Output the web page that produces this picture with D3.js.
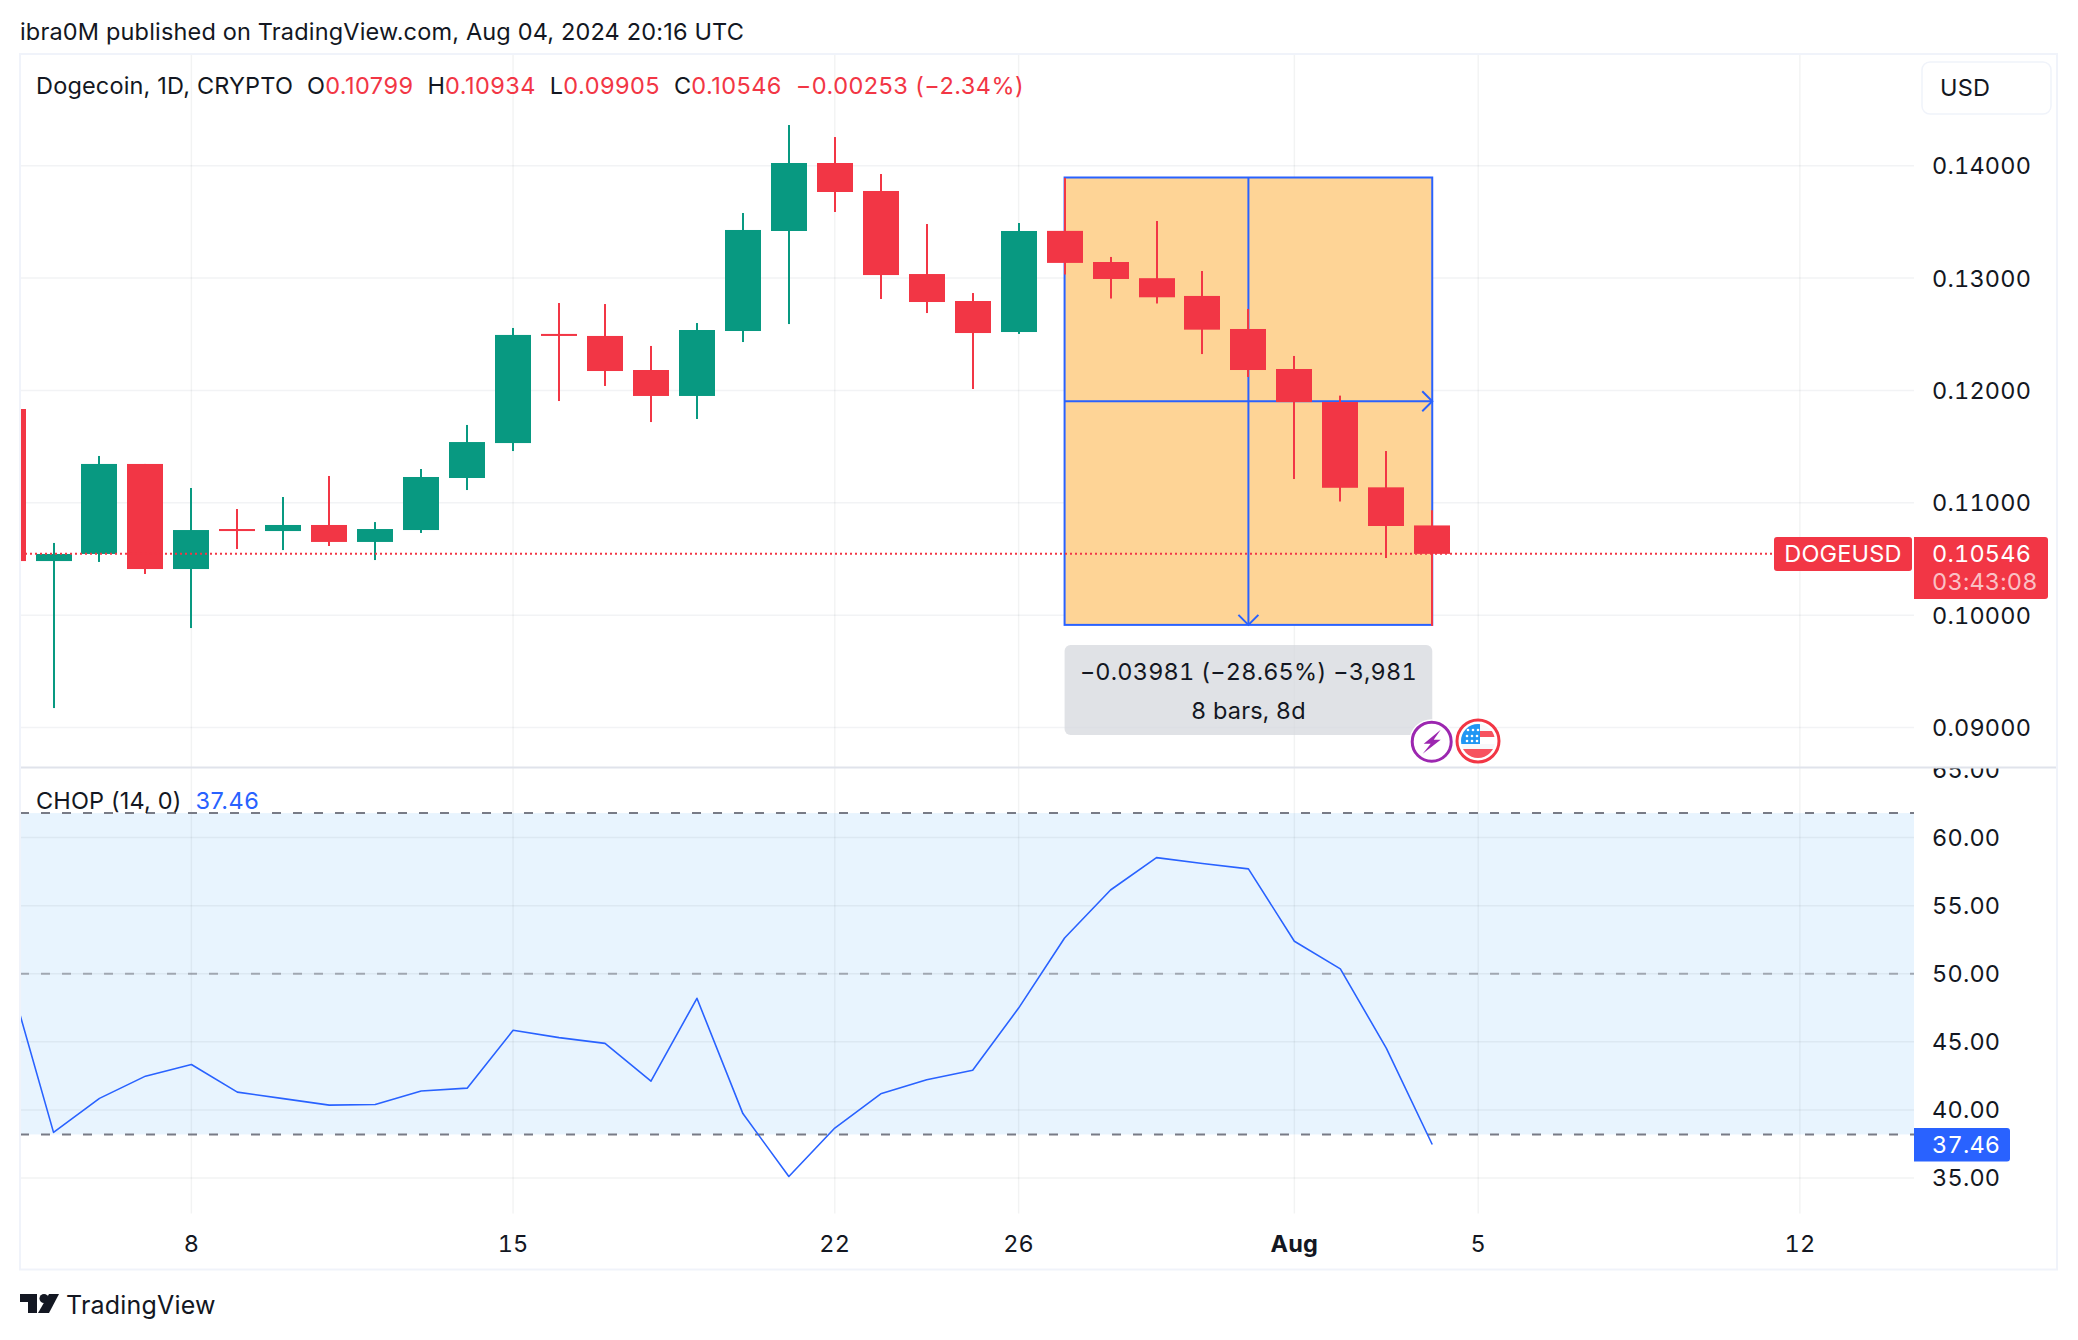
<!DOCTYPE html>
<html>
<head>
<meta charset="utf-8">
<script src="https://cdn.jsdelivr.net/npm/d3@7"></script>
<style>
  html, body { margin: 0; padding: 0; background: #fff; }
  svg { display: block; }
  text { font-family: Inter, "Noto Sans", sans-serif; font-variant-numeric: tabular-nums; letter-spacing: 0.2px; }
  text.plain { letter-spacing: 0.17px; font-variant-numeric: normal; }
  tspan.val { letter-spacing: 0.45px; font-variant-numeric: normal; }
</style>
</head>
<body>
<script>
// daily candles, 4 Jul -> 4 Aug 2024
var days = ["2024-07-04","2024-07-05","2024-07-06","2024-07-07","2024-07-08","2024-07-09","2024-07-10","2024-07-11","2024-07-12","2024-07-13","2024-07-14","2024-07-15","2024-07-16","2024-07-17","2024-07-18","2024-07-19","2024-07-20","2024-07-21","2024-07-22","2024-07-23","2024-07-24","2024-07-25","2024-07-26","2024-07-27","2024-07-28","2024-07-29","2024-07-30","2024-07-31","2024-08-01","2024-08-02","2024-08-03","2024-08-04"];
var opens  = [.11835,.10482,.10545,.11346,.10411,.10767,.10749,.10803,.10652,.10758,.11221,.11532,.12503,.12485,.12182,.11951,.12529,.13419,.14024,.13775,.13036,.12796,.1252,.1342,.13143,.12999,.12841,.12547,.12191,.11897,.11138,.10799];
var highs  = [.11835,.10643,.11417,.11346,.11132,.10945,.11052,.11239,.10829,.11301,.11693,.12556,.12778,.12769,.12396,.126,.13579,.14362,.14255,.13926,.13481,.12867,.1349,.13891,.13188,.13508,.13063,.12725,.12307,.11954,.11461,.10934];
var lows   = [.10482,.09174,.10474,.10367,.09886,.10589,.1058,.10616,.10491,.10732,.11114,.11461,.11906,.1204,.11719,.11746,.12431,.12591,.13588,.12814,.12689,.12013,.12503,.13032,.12818,.12774,.12324,.1212,.11212,.11012,.10509,.09905];
var closes = [.10482,.10545,.11346,.10411,.10758,.10749,.10803,.10652,.10767,.1123,.11541,.12494,.12485,.12173,.11951,.12538,.13428,.14024,.13766,.13027,.12787,.12511,.13419,.13135,.12992,.12829,.12541,.12182,.11897,.11134,.10794,.10546];
var chop   = [50.2,38.35,40.85,42.48,43.34,41.31,40.83,40.35,40.4,41.39,41.6,45.85,45.31,44.89,42.11,48.2,39.73,35.11,38.67,41.18,42.22,42.91,47.48,52.63,56.15,58.53,58.1,57.7,52.39,50.36,44.54,37.46];

var priceTicks = [0.09, 0.10, 0.11, 0.12, 0.13, 0.14];
var chopTicks = [35, 40, 45, 50, 55, 60, 65];
var chopLevels = [61.8, 50, 38.2];
var timeTicks = [["2024-07-08","8"],["2024-07-15","15"],["2024-07-22","22"],["2024-07-26","26"],["2024-08-01","Aug"],["2024-08-05","5"],["2024-08-12","12"]];

var lastPrice = 0.10546;
var measureFrom = "2024-07-27", measureTo = "2024-08-04";
var measureTop = 0.13895, measureBottom = 0.09914;

var width = 2078, height = 1340;
var plotLeft = 20, plotRight = 1914, frameRight = 2057, plotTop = 54;
var sep = 767.5, axisTop = 1213.5, frameBottom = 1269.5;
var fs = 23.5;

var red = "#F23645", green = "#089981", blue = "#2962FF", ink = "#131722";
var grid = "#f2f3f5";

var parse = d3.utcParse("%Y-%m-%d");

var x = d3.scaleUtc()
    .domain([parse("2024-07-08"), parse("2024-08-12")])
    .range([191.4, 1799.9]);
var y = d3.scaleLinear().domain([0.09, 0.14]).range([727.6, 165.7]);
var yc = d3.scaleLinear().domain([35, 60]).range([1178, 837.6]);

var svg = d3.select("body").append("svg")
    .attr("width", width)
    .attr("height", height);

var defs = svg.append("defs");
defs.append("clipPath").attr("id", "plot")
  .append("rect").attr("x", plotLeft).attr("y", plotTop).attr("width", plotRight - plotLeft).attr("height", sep - plotTop);
defs.append("clipPath").attr("id", "lower")
  .append("rect").attr("x", plotLeft).attr("y", sep).attr("width", plotRight - plotLeft).attr("height", axisTop - sep);
defs.append("clipPath").attr("id", "lowerAxis")
  .append("rect").attr("x", plotRight).attr("y", sep + 1).attr("width", frameRight - plotRight).attr("height", axisTop - sep);

// header
svg.append("text").attr("x", 20).attr("y", 40)
    .attr("class", "plain")
    .attr("font-size", fs).attr("fill", ink)
    .text("ibra0M published on TradingView.com, Aug 04, 2024 20:16 UTC");

// lower pane band goes under the grid
svg.append("rect")
    .attr("x", plotLeft).attr("width", plotRight - plotLeft)
    .attr("y", yc(61.8)).attr("height", yc(38.2) - yc(61.8))
    .attr("fill", "#e8f4fe");

// grid
svg.append("g").selectAll("line").data(priceTicks).join("line")
    .attr("x1", plotLeft).attr("x2", plotRight)
    .attr("y1", function(d) { return y(d); }).attr("y2", function(d) { return y(d); })
    .attr("stroke", grid).attr("stroke-width", 1.5);

svg.append("g").selectAll("line").data(chopTicks.filter(function(d) { return d != 65; })).join("line")
    .attr("x1", plotLeft).attr("x2", plotRight)
    .attr("y1", function(d) { return yc(d); }).attr("y2", function(d) { return yc(d); })
    .attr("stroke", "#2a2e39").attr("stroke-opacity", 0.06).attr("stroke-width", 1.5);

svg.append("g").selectAll("line").data(timeTicks).join("line")
    .attr("x1", function(d) { return x(parse(d[0])); }).attr("x2", function(d) { return x(parse(d[0])); })
    .attr("y1", plotTop).attr("y2", axisTop)
    .attr("stroke", "#2a2e39").attr("stroke-opacity", 0.06).attr("stroke-width", 1.4);

// measure box
var bx0 = x(parse(measureFrom)), bx1 = x(parse(measureTo));
var bMidX = (bx0 + bx1) / 2;
var bMidY = y((measureTop + measureBottom) / 2);
var box = svg.append("g");
box.append("rect")
    .attr("x", bx0).attr("y", y(measureTop))
    .attr("width", bx1 - bx0).attr("height", y(measureBottom) - y(measureTop))
    .attr("fill", "#fed496")
    .attr("stroke", blue).attr("stroke-width", 2);
box.append("line").attr("x1", bx0).attr("x2", bx1).attr("y1", bMidY).attr("y2", bMidY)
    .attr("stroke", blue).attr("stroke-width", 2);
box.append("line").attr("x1", bMidX).attr("x2", bMidX).attr("y1", y(measureTop)).attr("y2", y(measureBottom))
    .attr("stroke", blue).attr("stroke-width", 2);
box.append("path")
    .attr("d", d3.line()([[bx1 - 10, bMidY - 10], [bx1, bMidY], [bx1 - 10, bMidY + 10]]))
    .attr("fill", "none").attr("stroke", blue).attr("stroke-width", 2);
box.append("path")
    .attr("d", d3.line()([[bMidX - 10, y(measureBottom) - 10], [bMidX, y(measureBottom)], [bMidX + 10, y(measureBottom) - 10]]))
    .attr("fill", "none").attr("stroke", blue).attr("stroke-width", 2);

// candles
var candles = days.map(function(d, i) {
    return {t: parse(d), o: opens[i], h: highs[i], l: lows[i], c: closes[i]};
});
var bodyW = 36;
var cg = svg.append("g").attr("clip-path", "url(#plot)");
var cc = cg.selectAll("g").data(candles).join("g")
    .attr("fill", function(d) { return d.c >= d.o ? green : red; });
cc.append("rect")
    .attr("x", function(d) { return Math.round(x(d.t)) - 1; })
    .attr("width", 2)
    .attr("y", function(d) { return y(d.h); })
    .attr("height", function(d) { return y(d.l) - y(d.h); });
cc.append("rect")
    .attr("x", function(d) { return Math.round(x(d.t)) - bodyW / 2; })
    .attr("width", bodyW)
    .attr("y", function(d) { return Math.min(y(d.o), y(d.c)); })
    .attr("height", function(d) { return Math.max(2, Math.abs(y(d.o) - y(d.c))); });

// last price line
svg.append("line")
    .attr("x1", plotLeft).attr("x2", 1774)
    .attr("y1", y(lastPrice)).attr("y2", y(lastPrice))
    .attr("stroke", red).attr("stroke-width", 2).attr("stroke-dasharray", "2 3");

// tooltip
svg.append("rect")
    .attr("x", bx0).attr("y", 645).attr("width", bx1 - bx0).attr("height", 90).attr("rx", 6)
    .attr("fill", "#d6d8de").attr("fill-opacity", 0.75);
svg.append("text").attr("x", bMidX).attr("y", 680)
    .attr("text-anchor", "middle").attr("font-size", fs).attr("fill", ink)
    .text("\u22120.03981 (\u221228.65%) \u22123,981");
svg.append("text").attr("x", bMidX).attr("y", 719)
    .attr("text-anchor", "middle").attr("font-size", fs).attr("fill", ink)
    .text("8 bars, 8d");

// event icons
var ev1 = svg.append("g").attr("transform", "translate(1431.7,741.7)");
ev1.append("circle").attr("r", 22.5).attr("fill", "#fff");
ev1.append("circle").attr("r", 19.5).attr("fill", "#fff").attr("stroke", "#9C27B0").attr("stroke-width", 3);
ev1.append("path").attr("d", "M9,-12 L-8,2 L-1,2 L-9,12 L9,-2 L2,-2 Z").attr("fill", "#9C27B0");

var ev2 = svg.append("g").attr("transform", "translate(1478,741)");
ev2.append("circle").attr("r", 21).attr("fill", "#fff").attr("stroke", red).attr("stroke-width", 3);
defs.append("clipPath").attr("id", "flagClip").append("circle").attr("r", 17);
var flag = ev2.append("g").attr("clip-path", "url(#flagClip)");
flag.append("rect").attr("x", -17).attr("y", -17).attr("width", 34).attr("height", 8).attr("fill", "#f7f8fa");
flag.append("rect").attr("x", 0).attr("y", -10).attr("width", 17).attr("height", 6).attr("fill", "#f7525f");
flag.append("rect").attr("x", -17).attr("y", 3).attr("width", 34).attr("height", 5).attr("fill", "#f7f8fa");
flag.append("rect").attr("x", -17).attr("y", 8).attr("width", 34).attr("height", 10).attr("fill", "#f7525f");
flag.append("rect").attr("x", -17).attr("y", -17).attr("width", 19).attr("height", 20).attr("fill", "#2196F3");
flag.selectAll("circle").data([[-10,-11],[-5,-11],[0,-11],[-11,-5],[-6,-5],[-1,-5],[-11,0],[-6,0],[-1,0]]).join("circle")
    .attr("cx", function(d) { return d[0]; }).attr("cy", function(d) { return d[1]; })
    .attr("r", 1.3).attr("fill", "#fff");

// lower pane levels
svg.append("g").selectAll("line").data(chopLevels).join("line")
    .attr("x1", plotLeft).attr("x2", plotRight)
    .attr("y1", function(d) { return yc(d); }).attr("y2", function(d) { return yc(d); })
    .attr("stroke", "#787B86")
    .attr("stroke-opacity", function(d) { return d == 50 ? 0.6 : 1; })
    .attr("stroke-width", 2).attr("stroke-dasharray", "9 12");

// CHOP line
var chopLine = d3.line()
    .x(function(d, i) { return x(candles[i].t); })
    .y(function(d) { return yc(d); });
svg.append("path").attr("clip-path", "url(#lower)")
    .datum(chop).attr("d", chopLine)
    .attr("fill", "none").attr("stroke", blue).attr("stroke-width", 1.6)
    .attr("stroke-linejoin", "round");

// frame and pane separator
svg.append("line").attr("x1", plotLeft).attr("x2", frameRight).attr("y1", sep).attr("y2", sep)
    .attr("stroke", "#e0e3eb").attr("stroke-width", 2);
svg.append("rect")
    .attr("x", plotLeft).attr("y", plotTop).attr("width", frameRight - plotLeft).attr("height", frameBottom - plotTop)
    .attr("fill", "none").attr("stroke", "#f0f3fa").attr("stroke-width", 2);

// price axis
var labelX = 1932;
svg.append("g").selectAll("text").data(priceTicks).join("text")
    .attr("x", labelX).attr("y", function(d) { return y(d); }).attr("dy", "0.36em")
    .attr("font-size", fs).attr("fill", ink)
    .text(d3.format(".5f"));
svg.append("g").attr("clip-path", "url(#lowerAxis)").selectAll("text").data(chopTicks).join("text")
    .attr("x", labelX).attr("y", function(d) { return yc(d); }).attr("dy", "0.36em")
    .attr("font-size", fs).attr("fill", ink)
    .text(d3.format(".2f"));

// time axis
svg.append("g").selectAll("text").data(timeTicks).join("text")
    .attr("x", function(d) { return x(parse(d[0])); }).attr("y", 1244).attr("dy", "0.36em")
    .attr("text-anchor", "middle").attr("font-size", fs).attr("fill", ink)
    .attr("font-weight", function(d) { return d[1] == "Aug" ? 700 : 400; })
    .text(function(d) { return d[1]; });

// legend
var legend = svg.append("text").attr("class", "plain").attr("x", 36).attr("y", 94).attr("font-size", fs).attr("fill", ink);
legend.append("tspan").text("Dogecoin, 1D, CRYPTO");
[["O","0.10799"],["H","0.10934"],["L","0.09905"],["C","0.10546"]].forEach(function(p, i) {
    legend.append("tspan").attr("dx", 14).text(p[0]);
    legend.append("tspan").attr("class", "val").attr("fill", red).text(p[1]);
});
legend.append("tspan").attr("class", "val").attr("dx", 14).attr("fill", red).text("\u22120.00253 (\u22122.34%)");

var chopLegend = svg.append("text").attr("class", "plain").attr("x", 36).attr("y", 809).attr("font-size", fs).attr("fill", ink);
chopLegend.append("tspan").text("CHOP (14, 0)");
chopLegend.append("tspan").attr("class", "val").attr("dx", 14).attr("fill", blue).text("37.46");

// currency button
svg.append("rect").attr("x", 1922).attr("y", 62).attr("width", 129).attr("height", 52).attr("rx", 8)
    .attr("fill", "#fff").attr("stroke", "#f0f3fa").attr("stroke-width", 1.5);
svg.append("text").attr("x", 1940).attr("y", 88).attr("dy", "0.36em")
    .attr("font-size", fs).attr("fill", ink).text("USD");

// last price tags
svg.append("rect").attr("x", 1774).attr("y", 537).attr("width", 138).attr("height", 34).attr("rx", 3).attr("fill", red);
svg.append("text").attr("x", 1843).attr("y", 554).attr("dy", "0.36em")
    .attr("text-anchor", "middle").attr("font-size", fs).attr("fill", "#fff").text("DOGEUSD");
svg.append("path")
    .attr("d", "M1914,537 H2045 a3,3 0 0 1 3,3 V596 a3,3 0 0 1 -3,3 H1914 Z")
    .attr("fill", red);
svg.append("text").attr("x", labelX).attr("y", y(lastPrice)).attr("dy", "0.36em")
    .attr("font-size", fs).attr("fill", "#fff").text(d3.format(".5f")(lastPrice));
svg.append("text").attr("x", labelX).attr("y", 582).attr("dy", "0.36em")
    .attr("font-size", fs).attr("fill", "#fff").attr("fill-opacity", 0.7).text("03:43:08");

// chop value tag
svg.append("path")
    .attr("d", "M1914,1128 H2007 a3,3 0 0 1 3,3 V1158.5 a3,3 0 0 1 -3,3 H1914 Z")
    .attr("fill", blue);
svg.append("text").attr("x", labelX).attr("y", yc(37.46)).attr("dy", "0.36em")
    .attr("font-size", fs).attr("fill", "#fff").text("37.46");

// footer
var logo = svg.append("g").attr("transform", "translate(20,1294)").attr("fill", ink);
logo.append("path").attr("d", "M0,0 H17 V19 H8 V8 H0 Z");
logo.append("circle").attr("cx", 24).attr("cy", 4.5).attr("r", 4.5);
logo.append("path").attr("d", "M29,0 H39 L29,19 H18 Z");
svg.append("text").attr("x", 66).attr("y", 1305).attr("dy", "0.36em")
    .attr("font-size", 25).attr("fill", ink).text("TradingView");
</script>
</body>
</html>
